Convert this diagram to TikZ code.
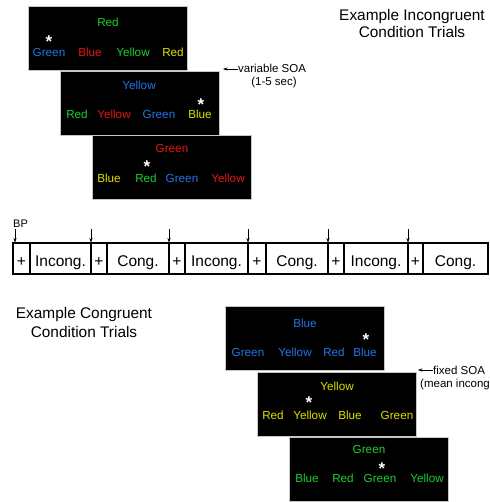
\documentclass[tikz,border=0pt]{standalone}
\usepackage{fontspec}
\setmainfont{Liberation Sans}
\usetikzlibrary{arrows.meta}
\definecolor{sgreen}{RGB}{30,205,45}
\definecolor{sred}{RGB}{228,22,22}
\definecolor{sblue}{RGB}{35,115,230}
\definecolor{syellow}{RGB}{222,222,0}
\begin{document}
\begin{tikzpicture}[x=1pt,y=-1pt,
  screen/.style={fill=black,draw=gray!45,line width=0.8pt,minimum width=159pt,minimum height=64pt,anchor=north west,inner sep=0pt},
  word/.style={anchor=base,inner sep=0pt,font=\fontsize{11.7}{14}\selectfont},
  starmark/.style={anchor=center,inner sep=0pt,text=white,text height=13pt,text depth=-7.5pt,font=\bfseries\fontsize{17}{20}\selectfont},
  heading/.style={anchor=base,inner sep=0pt,font=\fontsize{15.4}{17}\selectfont},
  note/.style={anchor=base west,inner sep=0pt,font=\fontsize{11.5}{14}\selectfont},
  cell/.style={draw,line width=1.8pt,minimum height=31pt,inner sep=0pt,text height=16pt,text depth=0pt,font=\fontsize{15.5}{18}\selectfont},
  arr/.style={-{Stealth[length=4.5pt,width=3.2pt]},line width=0.5pt}]
\clip (0,0) rectangle (489,502);
\fill[white] (0,0) rectangle (489,502);

% headings
\node[heading] (h1a) at (412,20.5) {Example Incongruent};
\node[heading] (h1b) at (412,37.5) {Condition Trials};
\node[heading] (h2a) at (84,318.6) {Example Congruent};
\node[heading] (h2b) at (84,337.6) {Condition Trials};

% incongruent screens
\node[screen] (s1) at (28,6) {};
\node[word,text=sgreen] (s1t) at (108,26.2) {Red};
\node[word,text=sblue] (s1a) at (49,56.2) {Green};
\node[word,text=sred] (s1b) at (90,56.2) {Blue};
\node[word,text=sgreen] (s1c) at (133,56.2) {Yellow};
\node[word,text=syellow] (s1d) at (173,56.2) {Red};
\node[starmark] (s1s) at (49,41) {*};

\node[screen] (s2) at (60,71) {};
\node[word,text=sblue] (s2t) at (139,89.2) {Yellow};
\node[word,text=sgreen] (s2a) at (77,118.2) {Red};
\node[word,text=sred] (s2b) at (114,118.2) {Yellow};
\node[word,text=sblue] (s2c) at (159,118.2) {Green};
\node[word,text=syellow] (s2d) at (200,118.2) {Blue};
\node[starmark] (s2s) at (201,104) {*};

\node[screen] (s3) at (92,135) {};
\node[word,text=sred] (s3t) at (172,152.2) {Green};
\node[word,text=syellow] (s3a) at (109,182.2) {Blue};
\node[word,text=sgreen] (s3b) at (146,182.2) {Red};
\node[word,text=sblue] (s3c) at (182,182.2) {Green};
\node[word,text=sred] (s3d) at (228,182.2) {Yellow};
\node[starmark] (s3s) at (147,166) {*};

% variable SOA note
\node[note] (vs) at (238,73) {variable SOA};
\node[anchor=base,inner sep=0pt,font=\fontsize{11.5}{14}\selectfont] (vs2) at (274,85.5) {(1-5 sec)};
\coordinate (va) at (223,69);
\draw[arr] (vs.west |- va) -- (va);

% timeline
\foreach \n/\a/\b/\t in {c1/13/30/+,c2/30/91/Incong.,c3/91/107/+,c4/107/169/Cong.,c5/169/185/+,c6/185/248/Incong.,c7/248/266/+,c8/266/328/Cong.,c9/328/344/+,c10/344/408/Incong.,c11/408/423/+,c12/423/488/Cong.}{
  \node[cell,minimum width={(\b-\a)*1pt}] (\n) at ({(\a+\b)/2},258.5) {\t};
}
\node[anchor=base west,inner sep=0pt,font=\fontsize{11}{13}\selectfont] (bp) at (13,227.5) {BP};
\foreach \x/\k in {15/0,91/1,169/2,248/3,328/4,408/5}{
  \coordinate (t\k) at (\x,229);
  \coordinate (b\k) at (\x,242.5);
  \draw[arr] (t\k) -- (b\k);
}

% congruent screens
\node[screen] (s4) at (225,306) {};
\node[word,text=sblue] (s4t) at (305,327.2) {Blue};
\node[word,text=sblue] (s4a) at (248,356.2) {Green};
\node[word,text=sblue] (s4b) at (295,356.2) {Yellow};
\node[word,text=sblue] (s4c) at (334,356.2) {Red};
\node[word,text=sblue] (s4d) at (365,356.2) {Blue};
\node[starmark] (s4s) at (366,339) {*};

\node[screen] (s5) at (257,372) {};
\node[word,text=syellow] (s5t) at (337,390.2) {Yellow};
\node[word,text=syellow] (s5a) at (273,419.2) {Red};
\node[word,text=syellow] (s5b) at (310,419.2) {Yellow};
\node[word,text=syellow] (s5c) at (350,419.2) {Blue};
\node[word,text=syellow] (s5d) at (397,419.2) {Green};
\node[starmark] (s5s) at (309,402) {*};

\node[screen] (s6) at (289,437) {};
\node[word,text=sgreen] (s6t) at (369,453.2) {Green};
\node[word,text=sgreen] (s6a) at (307,482.2) {Blue};
\node[word,text=sgreen] (s6b) at (343,482.2) {Red};
\node[word,text=sgreen] (s6c) at (380,482.2) {Green};
\node[word,text=sgreen] (s6d) at (427,482.2) {Yellow};
\node[starmark] (s6s) at (382,468) {*};

% fixed SOA note
\node[note] (fs) at (433,374) {fixed SOA};
\node[note] (fs2) at (420,387.5) {(mean incong};
\coordinate (fa) at (418,370);
\draw[arr] (fs.west |- fa) -- (fa);
\end{tikzpicture}
\end{document}
